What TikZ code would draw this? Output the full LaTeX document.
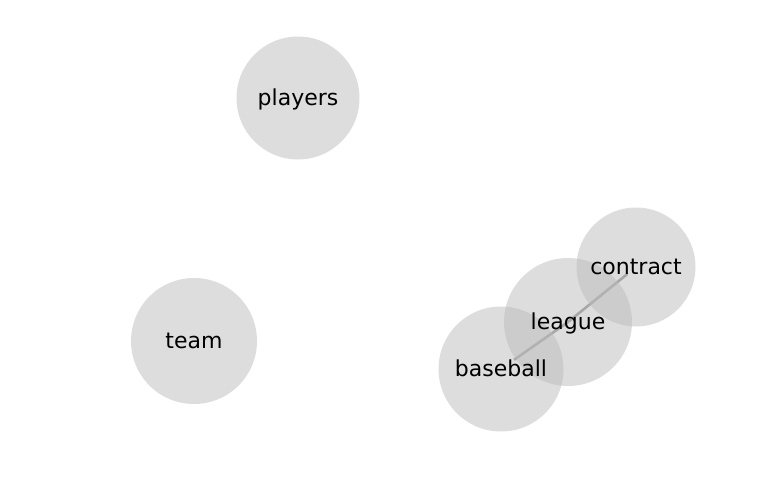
\documentclass[tikz,border=0pt]{standalone}
\usepackage{fontspec}
\setmainfont{DejaVu Sans}
\pgfdeclarelayer{background}
\pgfsetlayers{background,main}
\begin{document}
\begin{tikzpicture}[x=1pt,y=-1pt,
  bubble/.style={circle,inner sep=0pt,fill={rgb,255:red,187;green,187;blue,187},fill opacity=0.5,draw=none},
  word/.style={inner sep=0pt,text height=18pt,text depth=3pt,font=\fontsize{22}{26}\selectfont,text=black},
  link/.style={draw={rgb,255:red,150;green,150;blue,150},line width=2.6pt}]
\useasboundingbox (0,0) rectangle (768,500);
% word bubbles
\node[bubble,minimum size=123pt] (players)  at (298,98)  {};
\node[bubble,minimum size=126pt] (team)     at (194,341) {};
\node[bubble,minimum size=125pt] (baseball) at (501,369) {};
\node[bubble,minimum size=128pt] (league)   at (568,322) {};
\node[bubble,minimum size=119pt] (contract) at (636,267) {};
% co-occurrence links behind the bubbles
\begin{pgfonlayer}{background}
\draw[link,shorten <=16pt] (baseball.center) -- (league.center);
\draw[link,shorten >=11pt] (league.center) -- (contract.center);
\end{pgfonlayer}
% labels
\node[word] (players-text)  at (players)  {players};
\node[word] (team-text)     at (team)     {team};
\node[word] (baseball-text) at (baseball) {baseball};
\node[word] (league-text)   at (league)   {league};
\node[word] (contract-text) at (contract) {contract};
\end{tikzpicture}
\end{document}
